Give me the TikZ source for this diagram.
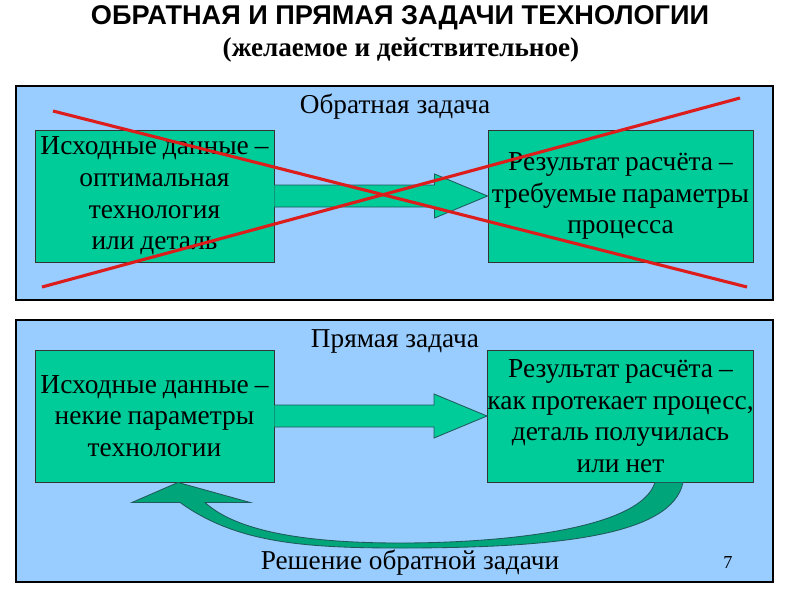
\documentclass[tikz,border=0pt]{standalone}
\usepackage{fontspec}
\setmainfont{Liberation Serif}
\newfontfamily\arialfont{Liberation Sans}
\usetikzlibrary{calc,positioning}
\definecolor{panelblue}{HTML}{99CCFF}
\definecolor{boxgreen}{HTML}{00CC99}
\definecolor{curvegreen}{HTML}{00A67A}
\definecolor{edgeteal}{HTML}{1F5A5A}
\definecolor{crossred}{HTML}{DD1C1C}
\definecolor{lavender}{HTML}{C6C6FC}
\tikzset{
  panel/.style={draw=black, fill=panelblue, line width=0.8pt},
  databox/.style={draw=black!80, fill=boxgreen, line width=0.6pt, align=center,
    inner sep=0pt, minimum height=3.3cm, font=\fontsize{19.5}{22.5}\selectfont,
    execute at begin node={\spaceskip=4.2pt\relax}},
  narrowbox/.style={databox, minimum width=5.975cm},
  widebox/.style={databox, minimum width=6.625cm},
  blockarrow/.style={draw=edgeteal, fill=boxgreen, line width=0.6pt},
  crossline/.style={draw=crossred, line width=2.2pt},
  caption/.style={font=\fontsize{19.4}{22}\selectfont}
}
\begin{document}
\begin{tikzpicture}[x=0.025cm,y=-0.025cm]
        % Background
        \useasboundingbox (0,0) rectangle (800,600);
        \begin{scope}
          \clip (0,0) rectangle (800,600);
          \shade[rotate around={-36.87:(400,300)}, top color=white, middle color=lavender, bottom color=white]
            (-200,-180) rectangle (1000,780);
        \end{scope}
        % Title
        \node[font=\arialfont\bfseries\fontsize{19.3}{22}\selectfont] (title) at (400,18) {ОБРАТНАЯ И ПРЯМАЯ ЗАДАЧИ ТЕХНОЛОГИИ};
        \node[font=\bfseries\fontsize{19.3}{22}\selectfont] (subtitle) at (401,50) {(желаемое и действительное)};
        % Panels
        \draw[panel] (16,86) rectangle (773,300);
        \draw[panel] (16,320) rectangle (773,582);
        \node[caption] (invlabel) at (395,107) {Обратная задача};
        \node[caption] (dirlabel) at (395,341) {Прямая задача};
        % Inverse problem boxes
        \node[narrowbox] (inA) at (154.5,196)
          {Исходные данные --\\оптимальная\\технология\\или деталь};
        \node[widebox] (outA) at (620.5,196)
          {Результат расчёта --\\требуемые параметры\\процесса};
        \draw[blockarrow] ($(inA.east)+(0,-11)$) -- ($(outA.west)+(-53,-11)$) -- ($(outA.west)+(-53,-22)$)
          -- (outA.west) -- ($(outA.west)+(-53,22)$) -- ($(outA.west)+(-53,11)$) -- ($(inA.east)+(0,11)$);
        % Direct problem boxes
        \node[narrowbox] (inB) at (154.5,416)
          {Исходные данные --\\некие параметры\\технологии};
        \node[widebox] (outB) at (620.5,416)
          {Результат расчёта --\\как протекает процесс,\\деталь получилась\\или нет};
        \draw[blockarrow] ($(inB.east)+(0,-11)$) -- ($(outB.west)+(-53,-11)$) -- ($(outB.west)+(-53,-22)$)
          -- (outB.west) -- ($(outB.west)+(-53,22)$) -- ($(outB.west)+(-53,11)$) -- ($(inB.east)+(0,11)$);
        % Curved feedback arrow
        \coordinate (fbA) at ($(outB.south)+(34.5,0)$);
        \coordinate (fbB) at ($(outB.south)+(62.5,0)$);
        \coordinate (tip) at ($(inB.south)+(23.5,0)$);
        \draw[blockarrow, fill=curvegreen] (fbA) .. controls (640,530) and (500,543) .. (400,543)
          .. controls (300,543) and (235,530) .. ($(tip)+(27,20)$) -- ($(tip)+(72,20)$) -- (tip)
          -- ($(tip)+(-46,20)$) -- ($(tip)+(2,20)$) .. controls (235,542) and (300,548) .. (400,548)
          .. controls (560,548) and (672,535) .. (fbB) -- cycle;
        \node[caption] (fblabel) at (410,563) {Решение обратной задачи};
        \node[font=\fontsize{13}{15}\selectfont] (pageno) at (728,562) {7};
        % Crossing out the inverse problem
        \coordinate (crA1) at (53,111);
        \coordinate (crA2) at (747,287);
        \coordinate (crB1) at (42,287);
        \coordinate (crB2) at (740,98);
        \draw[crossline] (crA1) -- (crA2);
        \draw[crossline] (crB1) -- (crB2);
      \end{tikzpicture}
\end{document}
